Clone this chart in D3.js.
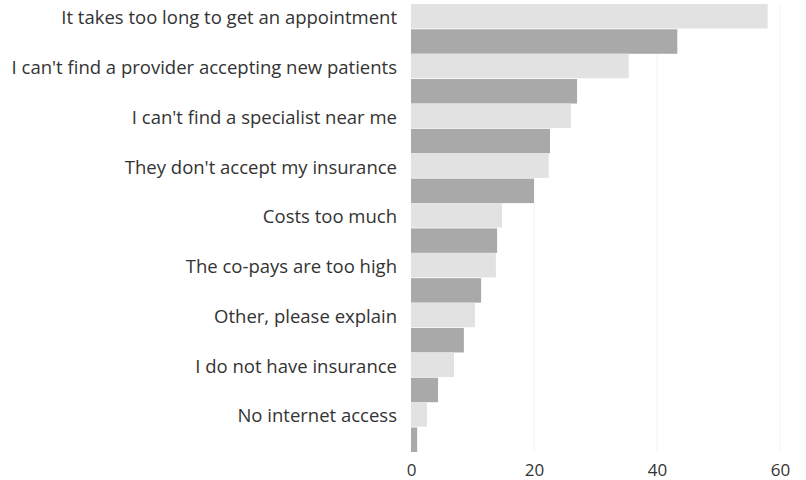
<!DOCTYPE html>
<html>
<head>
<meta charset="utf-8">
<script src="https://cdn.jsdelivr.net/npm/d3@7/dist/d3.min.js"></script>
<style>
  html, body { margin: 0; padding: 0; background: #fff; }
  svg { display: block; }
  text { font-family: "Open Sans", "Noto Sans", sans-serif; }
</style>
</head>
<body>
<svg id="chart" width="806" height="480"></svg>
<script>
const categories = [
  "It takes too long to get an appointment",
  "I can't find a provider accepting new patients",
  "I can't find a specialist near me",
  "They don't accept my insurance",
  "Costs too much",
  "The co-pays are too high",
  "Other, please explain",
  "I do not have insurance",
  "No internet access"
];
const seriesNames = ["Series A", "Series B"];
const seriesA = [58, 35.4, 26, 22.4, 14.8, 13.8, 10.4, 7, 2.6];
const seriesB = [43.3, 27, 22.6, 20, 14, 11.4, 8.6, 4.4, 1];
const xTicks = [0, 20, 40, 60];
const colors = ["#e2e2e2", "#a9a9a9"];

const data = categories.map((c, i) => ({ cat: c, values: [seriesA[i], seriesB[i]] }));

const svg = d3.select("#chart");
const x = d3.scaleLinear().domain([0, 60]).range([411, 780]);
const y = d3.scaleBand().domain(categories).range([4, 452]).padding(0);
const ySub = d3.scaleBand().domain(seriesNames).range([0, y.bandwidth()]).paddingInner(0.03);

// gridlines
svg.append("g")
  .selectAll("line")
  .data(xTicks.filter(d => d > 0))
  .join("line")
  .attr("x1", d => x(d)).attr("x2", d => x(d))
  .attr("y1", 4).attr("y2", 452)
  .attr("stroke", "#f2f2f2").attr("stroke-width", 1);

// bars
const groups = svg.append("g")
  .selectAll("g")
  .data(data)
  .join("g")
  .attr("transform", d => `translate(0,${y(d.cat)})`);

groups.selectAll("rect")
  .data(d => d.values.map((v, j) => ({ v, s: seriesNames[j], j })))
  .join("rect")
  .attr("x", x(0))
  .attr("y", d => ySub(d.s))
  .attr("width", d => x(d.v) - x(0))
  .attr("height", ySub.bandwidth())
  .attr("fill", d => colors[d.j]);

// category labels (aligned to first bar of each group)
svg.append("g")
  .selectAll("text")
  .data(categories)
  .join("text")
  .attr("x", 397)
  .attr("y", d => y(d) + ySub(seriesNames[0]) + ySub.bandwidth() / 2 + 0.5)
  .attr("text-anchor", "end")
  .attr("dominant-baseline", "central")
  .attr("font-size", 18.5)
  .attr("fill", "#333")
  .text(d => d);

// x axis
const xAxis = d3.axisBottom(x).tickValues(xTicks).tickSize(0).tickPadding(0);
const ax = svg.append("g").attr("transform", "translate(0,476)").call(xAxis);
ax.select(".domain").remove();
ax.selectAll("text")
  .attr("font-size", 17)
  .attr("font-family", "Open Sans, Noto Sans, sans-serif")
  .attr("fill", "#333")
  .attr("dy", "0");
</script>
</body>
</html>
